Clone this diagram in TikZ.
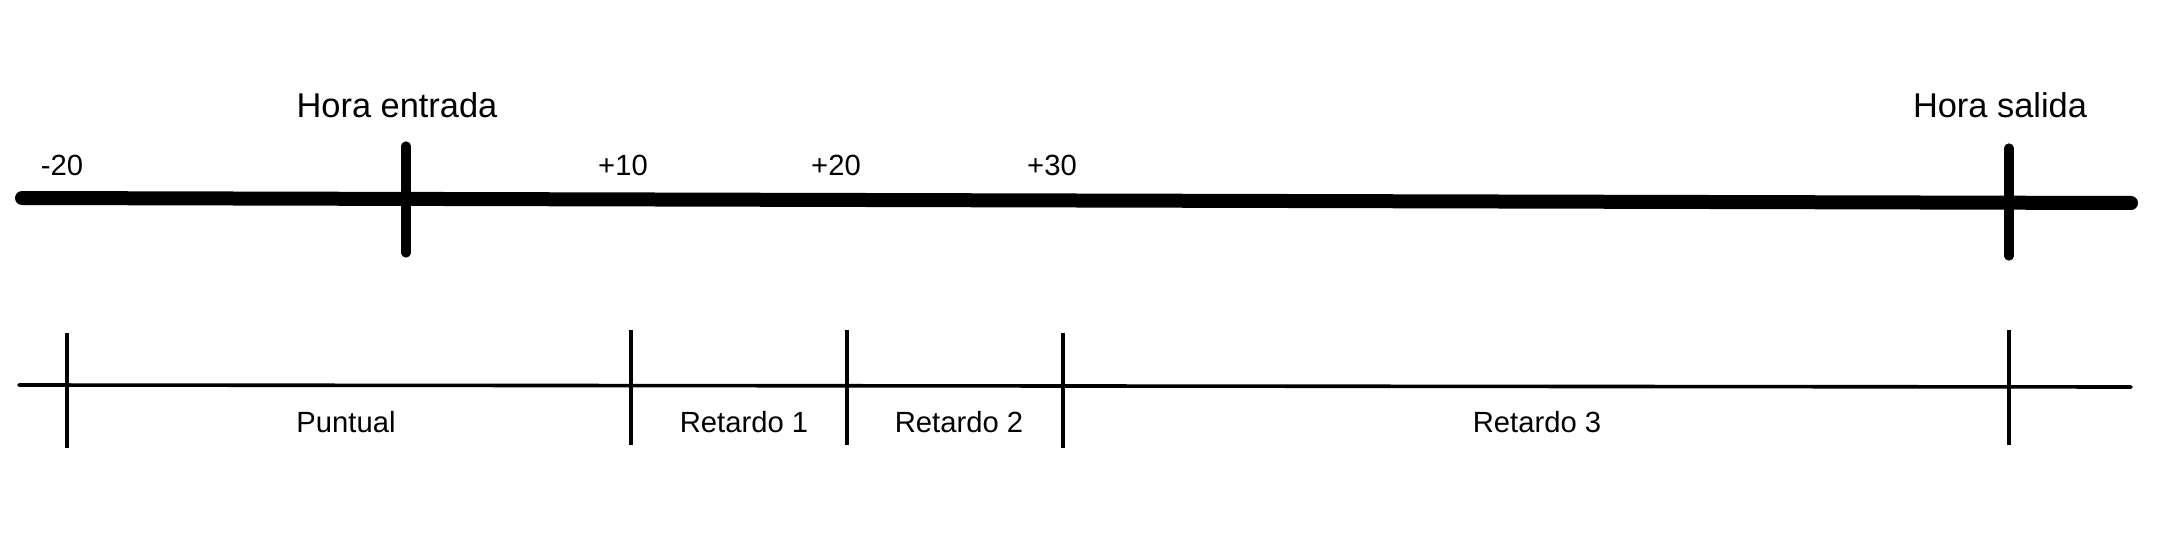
\documentclass[tikz,border=0pt]{standalone}
\usepackage{fontspec}
\setmainfont{Liberation Sans}
\begin{document}
\begin{tikzpicture}[x=0.5pt,y=-0.5pt,
  thickaxis/.style={line width=7pt,line cap=round},
  thicktick/.style={line width=4.6pt,line cap=round},
  thinaxis/.style={line width=1.8pt,line cap=round},
  thintick/.style={line width=1.8pt},
  biglabel/.style={inner sep=0pt,anchor=base,font=\fontsize{17.2}{20}\selectfont},
  smalllabel/.style={inner sep=0pt,anchor=base,font=\fontsize{14.6}{17}\selectfont}]
\useasboundingbox (0,0) rectangle (2160,540);
% top axis
\coordinate (tl) at (22,198);
\coordinate (tr) at (2131,203);
\draw[thickaxis] (tl) -- (tr);
\coordinate (e1) at (406,146);
\coordinate (e2) at (406,253);
\coordinate (s1) at (2009,148);
\coordinate (s2) at (2009,256);
\draw[thicktick] (e1) -- (e2);
\draw[thicktick] (s1) -- (s2);
\node[biglabel] (hentrada) at (397,118) {Hora entrada};
\node[biglabel] (hsalida) at (2000,118) {Hora salida};
\node[smalllabel] (m20) at (62,176) {-20};
\node[smalllabel] (p10) at (623,176) {+10};
\node[smalllabel] (p20) at (836,176) {+20};
\node[smalllabel] (p30) at (1052,176) {+30};
% bottom axis
\coordinate (bl) at (19,385);
\coordinate (br) at (2131,387);
\draw[thinaxis] (bl) -- (br);
\coordinate (a1) at (67,333);  \coordinate (a2) at (67,448);
\coordinate (b1) at (631,330); \coordinate (b2) at (631,445);
\coordinate (c1) at (847,330); \coordinate (c2) at (847,445);
\coordinate (d1) at (1063,333); \coordinate (d2) at (1063,448);
\coordinate (f1) at (2009,330); \coordinate (f2) at (2009,445);
\draw[thintick] (a1) -- (a2);
\draw[thintick] (b1) -- (b2);
\draw[thintick] (c1) -- (c2);
\draw[thintick] (d1) -- (d2);
\draw[thintick] (f1) -- (f2);
\node[smalllabel] (puntual) at (346,432) {Puntual};
\node[smalllabel] (r1) at (744,432) {Retardo 1};
\node[smalllabel] (r2) at (959,432) {Retardo 2};
\node[smalllabel] (r3) at (1537,432) {Retardo 3};
\end{tikzpicture}
\end{document}
